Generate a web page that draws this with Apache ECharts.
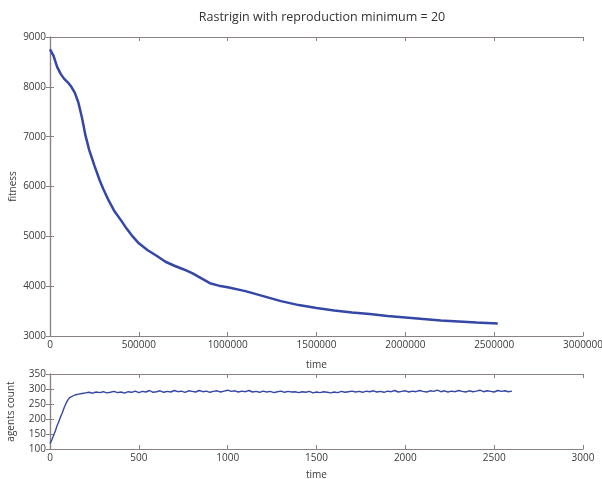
<!DOCTYPE html>
<html>
<head>
<meta charset="utf-8">
<script src="https://cdn.jsdelivr.net/npm/echarts@6/dist/echarts.min.js"></script>
<style>html,body{margin:0;padding:0;background:#fff}#c{width:602px;height:479px}</style>
</head>
<body>
<div id="c"></div>
<script>
const titleText = 'Rastrigin with reproduction minimum = 20';
const fitnessTime = [0, 20000, 40000, 60000, 80000, 100000, 120000, 140000, 160000, 180000, 200000, 220000, 250000, 280000, 300000, 330000, 360000, 400000, 430000, 460000, 500000, 550000, 600000, 650000, 700000, 750000, 800000, 850000, 900000, 950000, 1000000, 1100000, 1200000, 1300000, 1400000, 1500000, 1600000, 1700000, 1800000, 1900000, 2000000, 2100000, 2200000, 2300000, 2400000, 2520000];
const fitnessValues = [8750, 8620, 8400, 8260, 8160, 8090, 8000, 7880, 7680, 7380, 7020, 6740, 6420, 6120, 5950, 5720, 5520, 5320, 5160, 5020, 4860, 4720, 4610, 4490, 4410, 4340, 4260, 4160, 4060, 4010, 3980, 3900, 3800, 3700, 3620, 3560, 3510, 3470, 3440, 3400, 3370, 3340, 3310, 3290, 3270, 3250];
const agentsTime = [0, 10, 20, 30, 40, 50, 60, 70, 80, 90, 100, 110, 120, 140, 160, 180,
  200, 220, 240, 260, 280, 300, 320, 340, 360, 380,
  400, 420, 440, 460, 480, 500, 520, 540, 560, 580,
  600, 620, 640, 660, 680, 700, 720, 740, 760, 780,
  800, 820, 840, 860, 880, 900, 920, 940, 960, 980,
  1000, 1020, 1040, 1060, 1080, 1100, 1120, 1140, 1160, 1180,
  1200, 1220, 1240, 1260, 1280, 1300, 1320, 1340, 1360, 1380,
  1400, 1420, 1440, 1460, 1480, 1500, 1520, 1540, 1560, 1580,
  1600, 1620, 1640, 1660, 1680, 1700, 1720, 1740, 1760, 1780,
  1800, 1820, 1840, 1860, 1880, 1900, 1920, 1940, 1960, 1980,
  2000, 2020, 2040, 2060, 2080, 2100, 2120, 2140, 2160, 2180,
  2200, 2220, 2240, 2260, 2280, 2300, 2320, 2340, 2360, 2380,
  2400, 2420, 2440, 2460, 2480, 2500, 2520, 2540, 2560, 2580,
  2600];
const agentsValues = [118, 130, 145, 160, 178, 192, 208, 222, 238, 252, 263, 271, 276, 280, 283, 285,
  287, 289, 286, 290, 288, 291, 287, 289, 292, 288,
  290, 286, 291, 289, 293, 288, 292, 290, 295, 289,
  291, 294, 289, 292, 290, 295, 291, 293, 289, 294,
  292, 290, 295, 291, 293, 289, 292, 294, 290, 293,
  296, 292, 294, 290, 293, 291, 295, 290, 292, 289,
  293, 290, 292, 288, 291, 293, 289, 292, 290, 291,
  288, 291, 289, 292, 287, 290, 288, 291, 289, 287,
  290, 288, 292, 289, 291, 293, 290, 292, 289, 293,
  291, 294, 290, 292, 289, 293, 291, 295, 290, 292,
  294, 290, 293, 291, 295, 292, 290, 294, 292, 296,
  291, 294, 290, 293, 291, 295, 292, 290, 294, 291,
  293, 296, 291, 294, 292, 290, 295, 292, 294, 291,
  293];

const FONT = 'Open Sans';
const lineColor = '#3547a6';
const frameColor = '#8a8282';
const textColor = '#3a3a3a';

function pairs(xs, ys) { return xs.map((x, i) => [x, ys[i]]); }
const plain = v => String(v);

function mainX(gi, min, max, interval, name, gap) {
  return {
    type: 'value', gridIndex: gi, min: min, max: max, interval: interval, position: 'bottom',
    name: name, nameLocation: 'middle', nameGap: gap,
    nameTextStyle: { fontFamily: FONT, fontSize: 10, color: textColor },
    axisLine: { show: true, lineStyle: { color: frameColor, width: 1.2 } },
    axisTick: { show: true, inside: true, length: 4, lineStyle: { color: frameColor } },
    axisLabel: { fontFamily: FONT, fontSize: 10, color: textColor, margin: 4, formatter: plain, hideOverlap: false },
    splitLine: { show: false }
  };
}
function topX(gi, min, max, interval) {
  return {
    type: 'value', gridIndex: gi, min: min, max: max, interval: interval, position: 'top',
    axisLine: { show: true, lineStyle: { color: frameColor, width: 1.2 } },
    axisTick: { show: true, inside: true, length: 4, lineStyle: { color: frameColor } },
    axisLabel: { show: false }, splitLine: { show: false }
  };
}
function mainY(gi, min, max, interval, name, gap) {
  return {
    type: 'value', gridIndex: gi, min: min, max: max, interval: interval, position: 'left',
    name: name, nameLocation: 'middle', nameGap: gap, nameMoveOverlap: false,
    nameTextStyle: { fontFamily: FONT, fontSize: 10, color: textColor },
    axisLine: { show: true, lineStyle: { color: frameColor, width: 1.2 } },
    axisTick: { show: true, inside: true, length: 4, lineStyle: { color: frameColor } },
    axisLabel: { fontFamily: FONT, fontSize: 10, color: textColor, margin: 4, formatter: plain },
    splitLine: { show: false }
  };
}
function rightY(gi, min, max, interval) {
  return {
    type: 'value', gridIndex: gi, min: min, max: max, interval: interval, position: 'right',
    axisLine: { show: true, lineStyle: { color: frameColor, width: 1.2 } },
    axisTick: { show: true, inside: true, length: 4, lineStyle: { color: frameColor } },
    axisLabel: { show: false }, splitLine: { show: false }
  };
}

const chart = echarts.init(document.getElementById('c'), null, { renderer: 'canvas' });
chart.setOption({
  backgroundColor: '#ffffff',
  animation: false,
  title: {
    text: titleText, left: 317, top: 6, textAlign: 'center',
    textStyle: { fontFamily: FONT, fontSize: 12.5, fontWeight: 'normal', color: '#333' }
  },
  grid: [
    { left: 50, right: 19, top: 37, bottom: 143, containLabel: false, outerBoundsMode: 'none' },
    { left: 50, right: 19, top: 374, bottom: 30, containLabel: false, outerBoundsMode: 'none' }
  ],
  xAxis: [
    mainX(0, 0, 3000000, 500000, 'time', 24),
    topX(0, 0, 3000000, 500000),
    mainX(1, 0, 3000, 500, 'time', 21),
    topX(1, 0, 3000, 500)
  ],
  yAxis: [
    mainY(0, 3000, 9000, 1000, 'fitness', 32),
    rightY(0, 3000, 9000, 1000),
    mainY(1, 100, 350, 50, 'agents count', 34),
    rightY(1, 100, 350, 50)
  ],
  series: [
    {
      type: 'line', xAxisIndex: 0, yAxisIndex: 0, data: pairs(fitnessTime, fitnessValues),
      showSymbol: false, lineStyle: { color: lineColor, width: 2.5 }
    },
    {
      type: 'line', xAxisIndex: 2, yAxisIndex: 2, data: pairs(agentsTime, agentsValues),
      showSymbol: false, lineStyle: { color: lineColor, width: 1.4 }
    }
  ]
});
</script>
</body>
</html>
